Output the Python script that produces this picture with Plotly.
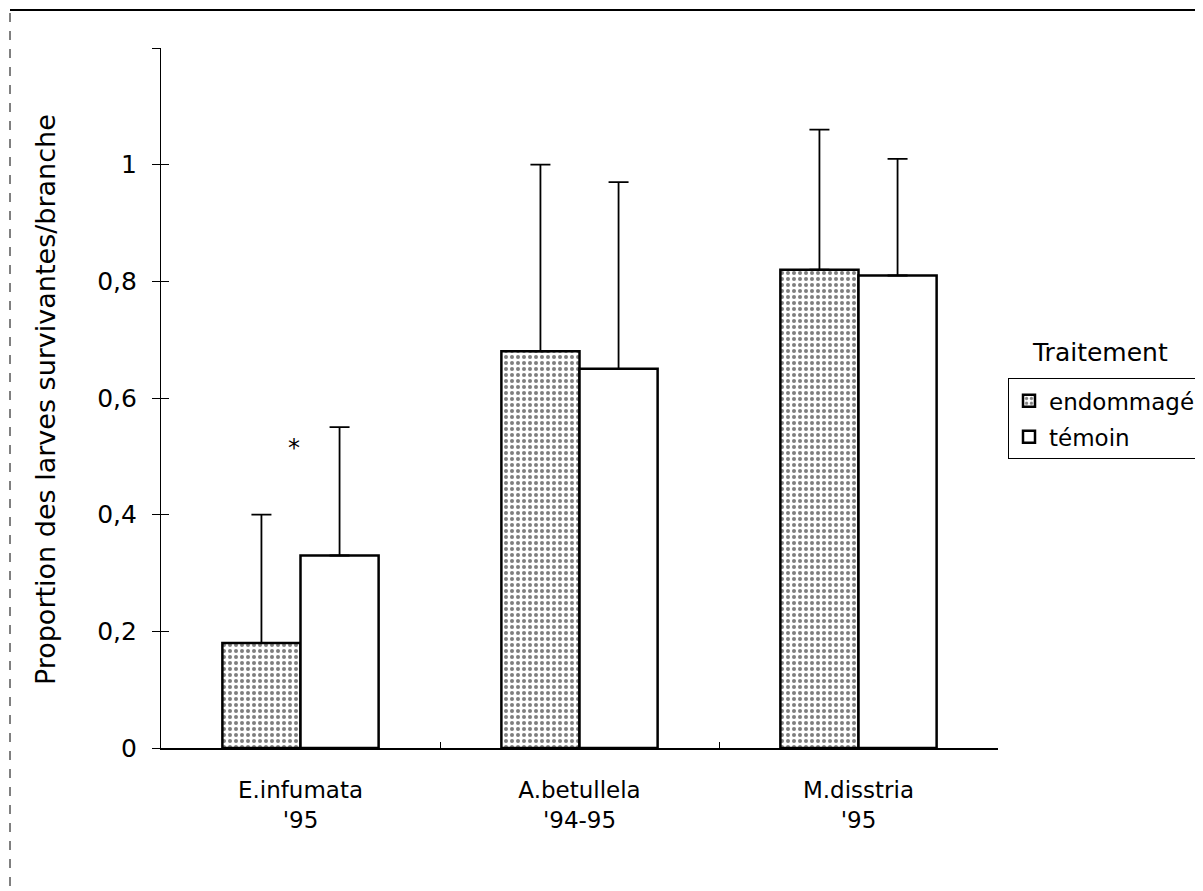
import plotly.graph_objects as go

categories = ["E.infumata<br>'95", "A.betullela<br>'94-95", "M.disstria<br>'95"]
series_names = ["endommagé", "témoin"]
endommage = [0.18, 0.68, 0.82]
endommage_err = [0.22, 0.32, 0.24]
temoin = [0.33, 0.65, 0.81]
temoin_err = [0.22, 0.32, 0.20]
y_ticks = [0, 0.2, 0.4, 0.6, 0.8, 1.0, 1.2]
y_ticktext = ["0", "0,2", "0,4", "0,6", "0,8", "1", ""]
star_value = 0.515

FONT = "DejaVu Sans"

fig = go.Figure()
fig.add_trace(go.Bar(
    name=series_names[0], x=categories, y=endommage, legendgroup="a",
    marker=dict(color="white", line=dict(color="black", width=2.5),
                pattern=dict(shape=".", fgcolor="black", bgcolor="white", size=6, solidity=0.35)),
    error_y=dict(type="data", array=endommage_err, arrayminus=[0, 0, 0], symmetric=False,
                 color="black", thickness=1.8, width=10),
))
fig.add_trace(go.Bar(
    name=series_names[1], x=categories, y=temoin, legendgroup="b",
    marker=dict(color="white", line=dict(color="black", width=2.5)),
    error_y=dict(type="data", array=temoin_err, arrayminus=[0, 0, 0], symmetric=False,
                 color="black", thickness=1.8, width=10),
))
# overlay axis giving the inner half of the crossing y ticks
fig.add_trace(go.Scatter(x=categories, y=[None] * 3, yaxis="y2", showlegend=False, hoverinfo="skip"))

fig.update_layout(
    width=1195, height=883,
    margin=dict(l=153, r=205, t=40, b=143, autoexpand=False),
    paper_bgcolor="white", plot_bgcolor="white",
    barmode="group", bargap=0.44, bargroupgap=0,
    separators=", ",
    font=dict(family=FONT, size=22, color="black"),
    showlegend=True,
    legend=dict(x=(1008 - 161) / 837, y=0.528, xanchor="left", yanchor="top",
                bordercolor="black", borderwidth=1, bgcolor="white",
                font=dict(size=23), itemwidth=30, tracegroupgap=3,
                traceorder="grouped"),
    xaxis=dict(showline=True, linecolor="black", linewidth=1.5, ticks="inside",
               tickson="boundaries", ticklen=6, tickcolor="black",
               tickfont=dict(size=23), ticklabelstandoff=21,
               showgrid=False, zeroline=False),
    yaxis=dict(range=[0, 1.2], tickvals=y_ticks, ticktext=y_ticktext,
               showline=True, linecolor="black", linewidth=1.2, ticks="outside",
               ticklen=8, tickcolor="black", showgrid=False, zeroline=False,
               tickfont=dict(size=25), ticklabelstandoff=10),
    yaxis2=dict(range=[0, 1.2], overlaying="y", side="left", tickvals=y_ticks,
                showticklabels=False, ticks="inside", ticklen=8, tickcolor="black",
                showgrid=False, zeroline=False, showline=False),
    annotations=[
        dict(x=(45 - 161) / 837, xref="paper", y=0.497, yref="paper",
             text="Proportion des larves survivantes/branche", textangle=-90,
             showarrow=False, xanchor="center", yanchor="middle", font=dict(size=27)),
        dict(x=0, xref="x", xshift=-7, y=star_value, yref="y", text="*", showarrow=False,
             font=dict(size=24)),
        dict(x=(1030 - 161) / 837, xref="paper", y=(748 - 352) / 700, yref="paper",
             text="Traitement", showarrow=False,
             xanchor="left", yanchor="middle", font=dict(size=25)),
    ],
    shapes=[
        dict(type="line", xref="paper", yref="paper",
             x0=-151 / 837, x1=1.3, y0=(748 - 10) / 700, y1=(748 - 10) / 700,
             line=dict(color="black", width=2)),
        dict(type="line", xref="paper", yref="paper",
             x0=-151 / 837, x1=-151 / 837, y0=-0.3, y1=(748 - 10) / 700,
             line=dict(color="black", width=1, dash="dash")),
    ],
)

fig.write_html("out.html")
